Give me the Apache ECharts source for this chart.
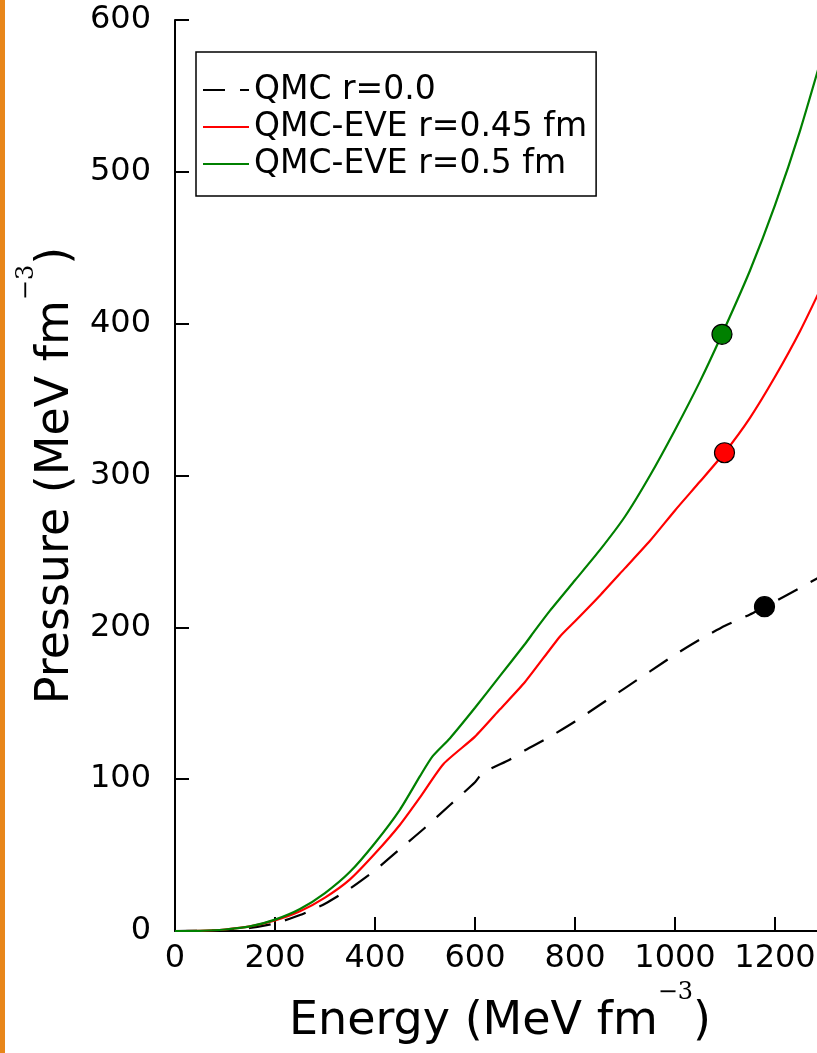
<!DOCTYPE html>
<html><head><meta charset="utf-8">
<script src="https://cdn.jsdelivr.net/npm/echarts/dist/echarts.min.js"></script>
<style>html,body{margin:0;padding:0;background:#fff;overflow:hidden;width:817px;height:1053px}
#c{width:900px;height:1053px}</style></head>
<body><div id="c"></div><script>
// ---- data ----
const seriesNames = ['QMC r=0.0', 'QMC-EVE r=0.45 fm', 'QMC-EVE r=0.5 fm'];

const qmcE = [0,50,100,150,200,250,300,350,400,450,500,550,600,615,670,700,750,800,850,900,950,1000,1050,1100,1150,1179,1200,1250,1300];
const qmcP = [0,0.1,0.5,2,5,10.5,18,28,40,54,68,83,98,104,113,119,128,138,149,160,171,182,192,201,208.5,213.6,217,226,235];

const eve045E = [0,50,100,150,200,250,300,350,400,450,490,537,600,650,700,770,800,850,900,950,1000,1050,1099,1150,1200,1250,1300];
const eve045P = [0,0.1,1,3,7,13,22,34,51,70,88,110,128,146,164,194,204,221,239,257,277,296,315,338,365,395,429];

const eve05E = [0,50,100,150,200,250,300,350,400,450,490,515,550,600,650,700,720,750,800,850,900,950,1000,1050,1094,1150,1200,1250,1300];
const eve05P = [0,0.1,1,3,7.5,14.5,25,39,58,80,102,115,127,147,168,189,198,211,231,251,273,300,330,362,393,435,478,527,583];

// highlighted points [energy, pressure]
const markQmc = [1179, 213.6];
const mark045 = [1099, 315];
const mark05 = [1094, 393];

const xTicks = {min: 0, max: 1300, interval: 200};
const yTicks = {min: 0, max: 600, interval: 100};

const colors = ['#000000', '#ff0000', '#008000'];

function pairs(E, P) { return E.map((e, i) => [e, P[i]]); }

const FONT = 'DejaVu Sans';
const nameRich = {
  a: {fontSize: 46, fontFamily: FONT, color: '#000', lineHeight: 64, verticalAlign: 'bottom'},
  s: {fontSize: 24, fontFamily: 'DejaVu Serif', color: '#000', lineHeight: 20, verticalAlign: 'top'}
};

const axisCommon = {
  axisLine: {show: true, onZero: false, lineStyle: {color: '#000', width: 2}},
  axisTick: {show: true, inside: true, length: 14, lineStyle: {color: '#000', width: 2}},
  splitLine: {show: false},
  nameLocation: 'middle',
  nameTextStyle: {rich: nameRich}
};

const chart = echarts.init(document.getElementById('c'), null, {renderer: 'canvas'});
chart.setOption({
  animation: false,
  backgroundColor: '#fff',
  graphic: [{type: 'rect', left: 0, top: 0, shape: {width: 5, height: 1053}, style: {fill: '#E8861A'}, silent: true}],
  grid: {left: 175, top: 20, width: 650, height: 911, containLabel: false, outerBoundsMode: 'none'},
  legend: {
    orient: 'vertical', left: 196, top: 52,
    data: seriesNames,
    itemWidth: 46, itemHeight: 2, itemGap: 1,
    itemStyle: {opacity: 0, borderWidth: 0},
    padding: [20, 9, 14, 6],
    borderColor: '#000', borderWidth: 1.5, backgroundColor: '#fff',
    textStyle: {fontSize: 33, fontFamily: FONT, color: '#000', lineHeight: 36}
  },
  xAxis: Object.assign({}, axisCommon, {
    type: 'value', min: xTicks.min, max: xTicks.max, interval: xTicks.interval,
    name: '{a|Energy (MeV fm}{s|\u22123}{a|)}', nameGap: 50,
    axisLabel: {fontSize: 32, fontFamily: FONT, color: '#000', margin: 12, showMaxLabel: false,
                formatter: v => String(v)}
  }),
  yAxis: Object.assign({}, axisCommon, {
    type: 'value', min: yTicks.min, max: yTicks.max, interval: yTicks.interval,
    name: '{a|Pressure (MeV fm}{s|\u22123}{a|)}', nameGap: 90,
    axisLabel: {fontSize: 32, fontFamily: FONT, color: '#000', margin: 24, padding: [4, 0, 0, 0],
                formatter: v => String(v)}
  }),
  series: [
    {name: seriesNames[0], type: 'line', data: pairs(qmcE, qmcP), symbol: 'none', smooth: 0.2,
     color: colors[0], lineStyle: {color: colors[0], width: 2.2, type: [22, 15]}},
    {name: seriesNames[1], type: 'line', data: pairs(eve045E, eve045P), symbol: 'none', smooth: 0.2,
     color: colors[1], lineStyle: {color: colors[1], width: 2.2}},
    {name: seriesNames[2], type: 'line', data: pairs(eve05E, eve05P), symbol: 'none', smooth: 0.2,
     color: colors[2], lineStyle: {color: colors[2], width: 2.2}},
    {name: 'mQ', type: 'scatter', data: [markQmc], symbolSize: 20, z: 5,
     itemStyle: {color: colors[0], borderColor: '#000', borderWidth: 1.2, opacity: 1}},
    {name: 'm45', type: 'scatter', data: [mark045], symbolSize: 20, z: 5,
     itemStyle: {color: colors[1], borderColor: '#000', borderWidth: 1.2, opacity: 1}},
    {name: 'm5', type: 'scatter', data: [mark05], symbolSize: 20, z: 5,
     itemStyle: {color: colors[2], borderColor: '#000', borderWidth: 1.2, opacity: 1}}
  ]
});
</script></body></html>
